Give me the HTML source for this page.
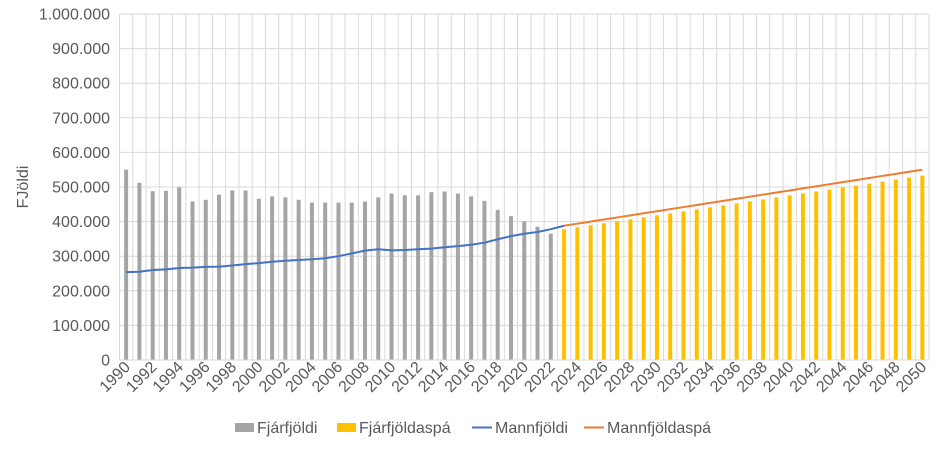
<!DOCTYPE html>
<html><head><meta charset="utf-8"><style>
body{margin:0;background:#fff;}
svg text{font-family:"Liberation Sans",sans-serif;fill:#595959;}
</style></head><body>
<svg id="s" width="945" height="445" xmlns="http://www.w3.org/2000/svg"></svg>
<script>
const s=document.getElementById('s');
const L=119.5,R=929,T=14,B=360,n=61,cw=(R-L)/n;
const y=v=>B-(B-T)*v/1000000;
let h='';
for(let i=0;i<=10;i++){const yy=y(i*100000);h+=`<line x1="${L}" x2="${R}" y1="${yy}" y2="${yy}" stroke="#d9d9d9" stroke-width="1"/>`;
h+=`<text x="110" y="${yy+5.5}" font-size="16" text-anchor="end">${i==0?'0':(i==10?'1.000.000':i*100+'.000')}</text>`;}
for(let i=0;i<=n;i++){const xx=L+i*cw;h+=`<line x1="${xx}" x2="${xx}" y1="${T}" y2="${B}" stroke="#d9d9d9" stroke-width="1"/>`;}
const hist=[550,512,488,489,499,458,463,478,490,490,466,473,470,463,455,455,455,455,458,470,481,476,476,485,487,481,473,460,434,416,401,385,365];
const pop=[254,255,260,262,266,267,269,270,273,277,280,284,287,289,291,294,300,308,316,320,317,318,320,322,326,329,333,339,349,358,365,370,378,388];
const cx=i=>L+cw*(i+0.5);
for(let i=0;i<n;i++){let v,c;
 if(i<hist.length){v=hist[i];c='#a5a5a5';}else{const k=i-33;v=378+k*(155/27);c='#ffc000';}
 h+=`<rect x="${cx(i)-2}" y="${y(v*1000)}" width="4" height="${B-y(v*1000)}" fill="${c}"/>`;}
let p='';pop.forEach((v,i)=>p+=(i?'L':'M')+cx(i)+','+y(v*1000));
h+=`<path d="${p}" fill="none" stroke="#4472c4" stroke-width="2"/>`;
let o='';for(let i=33;i<n;i++){const v=388+(i-33)*(162/27);o+=(i>33?'L':'M')+cx(i)+','+y(v*1000);}
h+=`<path d="${o}" fill="none" stroke="#ed7d31" stroke-width="2"/>`;
h+=`<line x1="${L}" x2="${R}" y1="${B}" y2="${B}" stroke="#d9d9d9"/>`;
for(let i=0;i<n;i+=2){const xx=cx(i)+5,yy=368;h+=`<text font-size="16" text-anchor="end" transform="translate(${xx},${yy}) rotate(-45)">${1990+i}</text>`;}
h+=`<text font-size="16" text-anchor="middle" transform="translate(28,187) rotate(-90)">FJöldi</text>`;
h+=`<rect x="235" y="423" width="19" height="9" fill="#a5a5a5"/><text x="257" y="433" font-size="16">Fjárfjöldi</text>`;
h+=`<rect x="337" y="423" width="19" height="9" fill="#ffc000"/><text x="359" y="433" font-size="16">Fjárfjöldaspá</text>`;
h+=`<line x1="472" x2="492" y1="427.5" y2="427.5" stroke="#4472c4" stroke-width="2"/><text x="495" y="433" font-size="16">Mannfjöldi</text>`;
h+=`<line x1="584" x2="604" y1="427.5" y2="427.5" stroke="#ed7d31" stroke-width="2"/><text x="607" y="433" font-size="16">Mannfjöldaspá</text>`;
s.innerHTML=h;
</script>
</body></html>
